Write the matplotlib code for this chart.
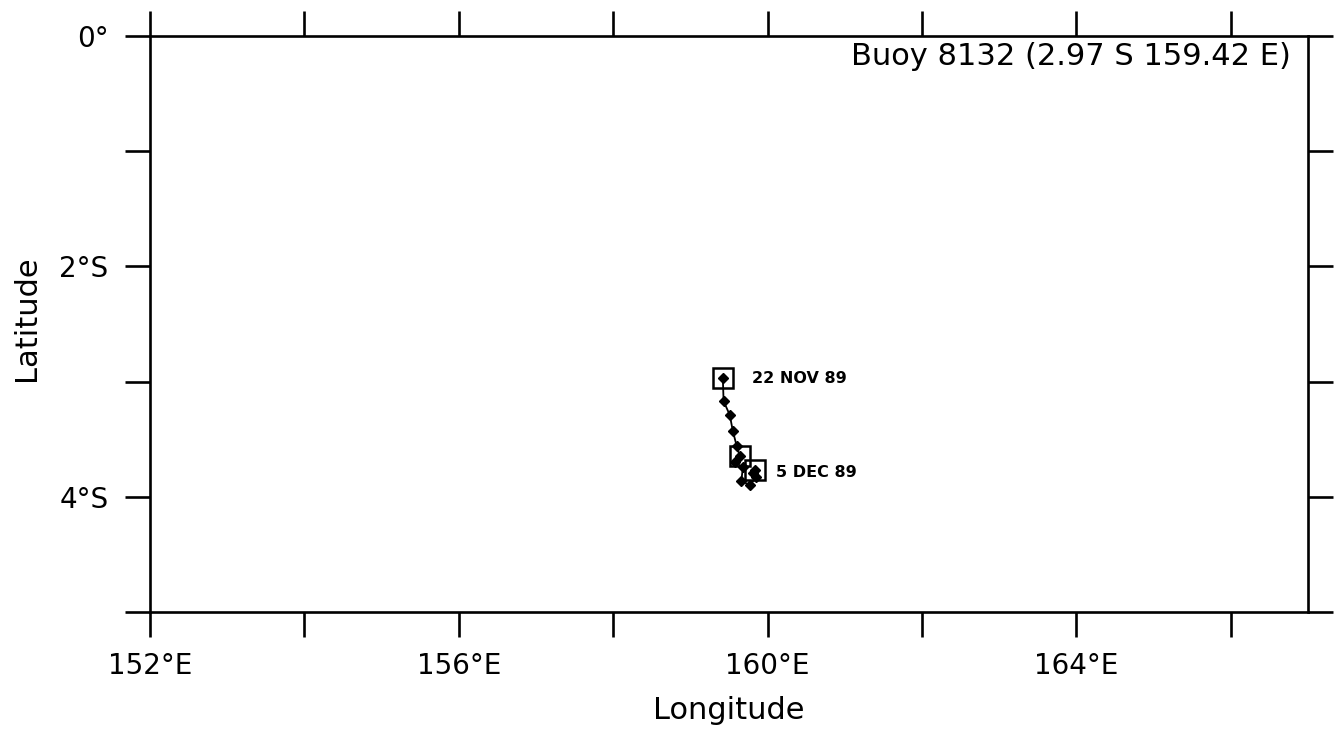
import matplotlib
matplotlib.use("Agg")
import matplotlib.pyplot as plt
from matplotlib.ticker import FixedLocator

# Trajectory of buoy 8132 (lon in degrees E, lat in degrees, negative = S)
lon = [159.42, 159.43, 159.51, 159.55, 159.60, 159.64, 159.58, 159.68, 159.66, 159.77, 159.85, 159.81, 159.84]
lat = [-2.97, -3.17, -3.29, -3.43, -3.56, -3.65, -3.70, -3.745, -3.86, -3.90, -3.83, -3.79, -3.77]

# Boxed positions (start, intermediate, end)
box_lon = [159.42, 159.64, 159.84]
box_lat = [-2.97, -3.65, -3.77]

date_labels = ["22 NOV 89", "5 DEC 89"]
date_lon = [159.42, 159.84]
date_lat = [-2.97, -3.77]

x_ticks = [152, 154, 156, 158, 160, 162, 164, 166]
x_ticklabels = ["152°E", "", "156°E", "", "160°E", "", "164°E", ""]
y_ticks = [0, -1, -2, -3, -4, -5]
y_ticklabels = ["0°", "", "2°S", "", "4°S", ""]

title_text = "Buoy 8132 (2.97 S 159.42 E)"

plt.rcParams['font.family'] = ['DejaVu Sans']

fig = plt.figure(figsize=(13.38, 7.32), dpi=100)
ax = fig.add_axes([150/1338, 1 - 612/732, (1308-150)/1338, (612-36)/732])

ax.plot(lon, lat, color='black', lw=1.3, marker='D', ms=5.5, mfc='black', mec='black', zorder=3)
ax.plot(box_lon, box_lat, ls='none', marker='s', ms=14, mfc='none', mec='black', mew=1.8, zorder=4)

ax.text(date_lon[0] + 0.38, date_lat[0], date_labels[0], fontsize=11.5, fontweight='bold',
        ha='left', va='center')
ax.text(date_lon[1] + 0.27, date_lat[1] - 0.02, date_labels[1], fontsize=11.5, fontweight='bold',
        ha='left', va='center')

ax.set_xlim(152, 167)
ax.set_ylim(-5, 0)

ax.xaxis.set_major_locator(FixedLocator(x_ticks))
ax.set_xticklabels(x_ticklabels)
ax.yaxis.set_major_locator(FixedLocator(y_ticks))
ax.set_yticklabels(y_ticklabels)

ax.tick_params(axis='both', which='major', direction='out', length=18, width=1.9,
               labelsize=20, top=True, right=True)
ax.tick_params(axis='x', pad=11)
ax.tick_params(axis='y', pad=12)
for s in ax.spines.values():
    s.set_linewidth(1.9)

ax.set_xlabel("Longitude", fontsize=22, labelpad=11)
ax.set_ylabel("Latitude", fontsize=22, labelpad=12)
ax.yaxis.set_label_coords(-0.094, 0.51)

ax.text(0.985, 0.99, title_text, transform=ax.transAxes, ha='right', va='top', fontsize=22)

fig.savefig("out.png", dpi=100)
